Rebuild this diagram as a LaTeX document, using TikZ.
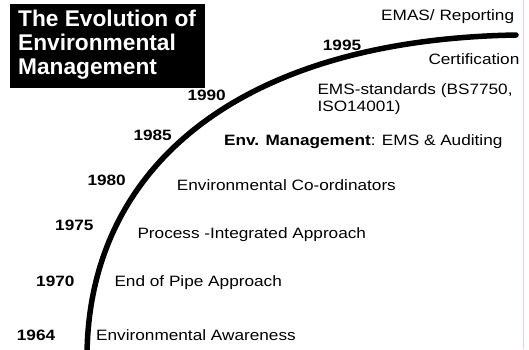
\documentclass[tikz,border=0pt]{standalone}
\usepackage{fontspec}
\setmainfont{Liberation Sans}
\newfontfamily\lblfont[FakeStretch=1.147]{Liberation Sans}
\definecolor{scanpink}{RGB}{246,205,205}
\tikzset{
  lbl/.style={anchor=base west, inner sep=0pt, font=\lblfont\fontsize{15}{18}\selectfont},
  yr/.style={anchor=base west, inner sep=0pt, font=\lblfont\fontsize{15}{18}\selectfont\bfseries},
  ttl/.style={anchor=base west, inner sep=0pt, text=white, font=\fontsize{22.7}{24}\selectfont\bfseries},
  curve/.style={line width=5.5pt, line cap=round}
}
\begin{document}
\begin{tikzpicture}[x=1pt, y=-1pt]
\useasboundingbox (0,0) rectangle (529,349);
% faint scan line on the right
\coordinate (p0) at (523,0);
\coordinate (p1) at (523,349);
\draw[scanpink, line width=0.8pt] (p0) -- (p1);
% title box
\node (titlebox) [fill=black, anchor=north west, minimum width=195pt, minimum height=84pt, inner sep=0pt] at (10,4) {};
\node (t1) [ttl] at (18,26.7) {The Evolution of};
\node (t2) [ttl] at (18,50.7) {Environmental};
\node (t3) [ttl] at (18,74.7) {Management};
% curve
\coordinate (c0) at (87,356);
\coordinate (c3) at (516,35);
\draw[curve] (c0) .. controls (88,170) and (235,40) .. (c3);
% years
\node (y1995) [yr] at (322.7,50) {1995};
\node (y1990) [yr] at (187.3,100) {1990};
\node (y1985) [yr] at (133.3,140) {1985};
\node (y1980) [yr] at (87.3,185) {1980};
\node (y1975) [yr] at (55,230) {1975};
\node (y1970) [yr] at (36,286) {1970};
\node (y1964) [yr] at (16.7,340) {1964};
% stages
\node (emas) [lbl] at (381,20) {EMAS/ Reporting};
\node (cert) [lbl] at (428.3,64) {Certification};
\node (ems1) [lbl] at (317.3,94.5) {EMS-standards (BS7750,};
\node (ems2) [lbl] at (317.3,111.5) {ISO14001)};
\node (envm) [lbl] at (224,145.5) {\textbf{Env. Management}: EMS \& Auditing};
\node (coord) [lbl] at (176.7,190) {Environmental Co-ordinators};
\node (proc) [lbl] at (137.3,238.5) {Process -Integrated Approach};
\node (pipe) [lbl] at (114.3,286.5) {End of Pipe Approach};
\node (aware) [lbl] at (96,340.5) {Environmental Awareness};
\end{tikzpicture}
\end{document}
